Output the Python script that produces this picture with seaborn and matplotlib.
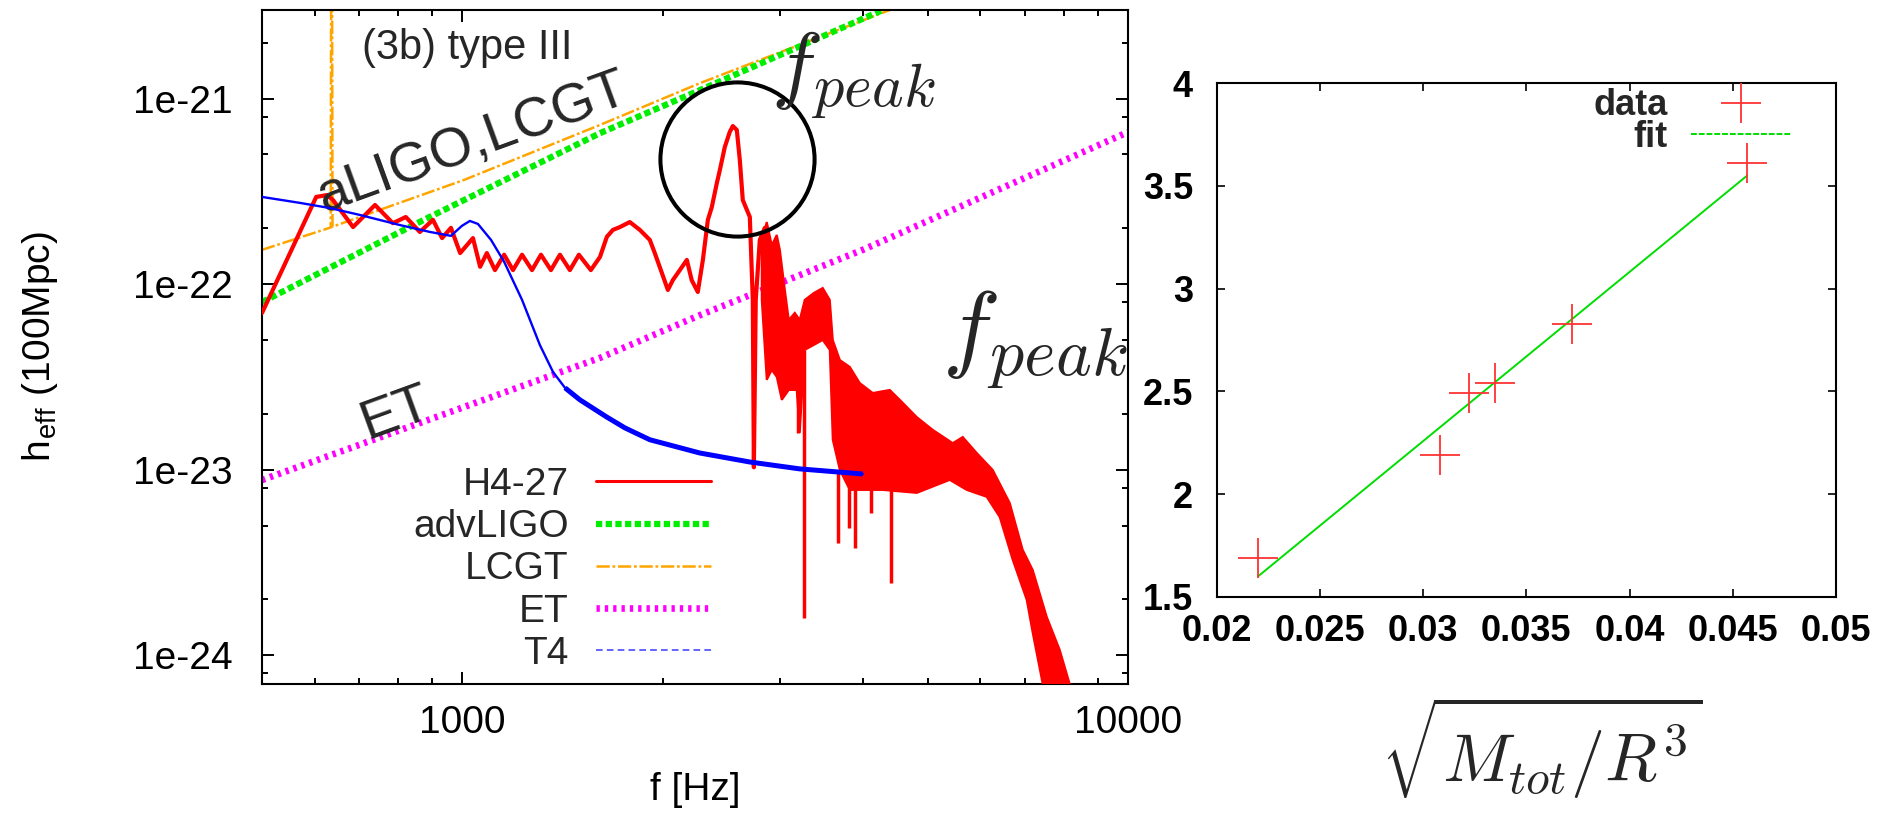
import matplotlib
matplotlib.use("Agg")
import matplotlib.pyplot as plt
from matplotlib.lines import Line2D
from matplotlib.ticker import FixedLocator, FixedFormatter, NullFormatter
import seaborn as sns

# ---------------- left panel: effective amplitude spectra ----------------
# H4-27 spectrum (low-frequency part, Hz / strain)
h427_f = [500, 603, 626, 639, 685, 739, 786, 822, 863, 903, 932, 961, 992, 1037,
          1063, 1088, 1119, 1155, 1191, 1229, 1272, 1312, 1358, 1401, 1450, 1496,
          1559, 1609, 1648, 1683, 1724, 1784, 1847, 1912, 1945, 1993, 2035, 2070,
          2121, 2173, 2210, 2257, 2297, 2337, 2369, 2411, 2436, 2478, 2521, 2548,
          2583, 2610, 2637, 2702, 2730, 2740, 2758, 2797, 2846]
h427_h = [7.0e-23, 2.95e-22, 3.02e-22, 2.84e-22, 2.03e-22, 2.67e-22, 2.13e-22,
          2.30e-22, 1.91e-22, 2.22e-22, 1.77e-22, 2.01e-22, 1.47e-22, 1.77e-22,
          1.24e-22, 1.47e-22, 1.19e-22, 1.44e-22, 1.19e-22, 1.44e-22, 1.19e-22,
          1.44e-22, 1.19e-22, 1.44e-22, 1.19e-22, 1.44e-22, 1.19e-22, 1.40e-22,
          1.80e-22, 1.96e-22, 2.03e-22, 2.16e-22, 1.96e-22, 1.73e-22, 1.47e-22,
          1.15e-22, 9.30e-23, 1.05e-22, 1.19e-22, 1.35e-22, 1.05e-22, 9.07e-23,
          1.35e-22, 2.22e-22, 2.60e-22, 3.51e-22, 4.12e-22, 5.48e-22, 6.61e-22,
          7.11e-22, 6.77e-22, 4.67e-22, 2.84e-22, 2.30e-22, 8.22e-23, 1.03e-23,
          8.22e-23, 1.73e-22, 2.01e-22]

# H4-27 noisy high-frequency part: upper and lower envelope
band_top_f = [2816, 2865, 2915, 2966, 2998, 3050, 3092, 3157, 3211, 3267, 3371,
              3477, 3563, 3600, 3689, 3818, 3952, 4134, 4384, 4539, 4747, 4814,
              5087, 5452, 5643, 5923, 6260, 6639, 6944, 7189, 7546, 7892, 8170,
              8300]
band_top_h = [1.73e-22, 2.16e-22, 1.62e-22, 1.84e-22, 1.53e-22, 9.30e-23, 6.41e-23,
              7.0e-23, 6.41e-23, 8.22e-23, 8.96e-23, 9.53e-23, 8.22e-23, 5.0e-23,
              3.90e-23, 3.58e-23, 2.93e-23, 2.59e-23, 2.69e-23, 2.38e-23, 2.02e-23,
              1.92e-23, 1.64e-23, 1.39e-23, 1.50e-23, 1.23e-23, 9.97e-24, 6.62e-24,
              3.70e-24, 2.88e-24, 1.61e-24, 1.07e-24, 7.0e-25, 3e-25]
band_bot_f = [2816, 2865, 2915, 2966, 3018, 3092, 3178, 3211, 3267, 3371, 3477,
              3563, 3600, 3689, 3818, 3952, 4279, 4814, 5395, 5722, 6131, 6413,
              6708, 7041, 7189, 7442, 7624]
band_bot_h = [8.22e-23, 3.05e-23, 3.45e-23, 3.16e-23, 2.38e-23, 2.69e-23, 2.69e-23,
              1.58e-23, 4.42e-23, 4.70e-23, 5.0e-23, 4.42e-23, 1.45e-23, 9.97e-24,
              7.78e-24, 7.78e-24, 7.78e-24, 7.50e-24, 8.81e-24, 7.78e-24, 7.14e-24,
              5.56e-24, 3.27e-24, 1.99e-24, 1.32e-24, 7.0e-25, 3e-25]

# narrow dips of the H4-27 spectrum
dip_f = [3190, 3256, 3669, 3804, 3884, 4105, 4400]
dip_top = [4.0e-23, 4.4e-23, 1.0e-23, 8.0e-24, 8.0e-24, 8.0e-24, 8.0e-24]
dip_bot = [1.58e-23, 1.59e-24, 4.03e-24, 4.85e-24, 3.79e-24, 5.85e-24, 2.45e-24]

# T4 spectrum
t4_f = [500, 570, 632, 701, 806, 894, 961, 998, 1026, 1055, 1104, 1155, 1229,
        1307, 1368, 1426, 1501, 1648, 1754, 1912, 2273, 2702, 3211, 3993]
t4_h = [2.95e-22, 2.74e-22, 2.57e-22, 2.36e-22, 2.08e-22, 1.91e-22, 1.82e-22,
        2.06e-22, 2.19e-22, 2.11e-22, 1.73e-22, 1.32e-22, 8.22e-23, 4.70e-23,
        3.36e-23, 2.76e-23, 2.38e-23, 1.92e-23, 1.68e-23, 1.45e-23, 1.23e-23,
        1.10e-23, 1.01e-23, 9.48e-24]

# detector sensitivities
advligo_f = [500, 875, 1608, 2273, 4279]
advligo_h = [8.0e-23, 2.22e-22, 6.5e-22, 1.11e-21, 3.0e-21]
lcgt_f = [500, 634, 636, 638, 1005, 1608, 2273, 4385]
lcgt_h = [1.53e-22, 2.02e-22, 1.0e-19, 2.04e-22, 3.64e-22, 7.2e-22, 1.21e-21, 3.0e-21]
et_f = [500, 1608, 2273, 3993, 10000]
et_h = [8.8e-24, 4.0e-23, 6.8e-23, 1.53e-22, 6.6e-22]

# location of the spectral peak
peak_f = 2581
peak_h = 4.75e-22

x_major = [1000, 10000]
x_major_labels = ["1000", "10000"]
x_minor = [600, 700, 800, 900, 2000, 3000, 4000, 5000, 6000, 7000, 8000, 9000]
y_major = [1e-24, 1e-23, 1e-22, 1e-21]
y_major_labels = ["1e-24", "1e-23", "1e-22", "1e-21"]
y_minor = [8e-25, 2e-24, 5e-24, 8e-24, 2e-23, 5e-23, 8e-23, 2e-22, 5e-22, 8e-22, 2e-21]

# ---------------- right panel: peak frequency vs compactness ----------------
compactness = [0.0220, 0.0308, 0.0322, 0.0335, 0.0372, 0.0457]
fpeak_khz = [1.69, 2.19, 2.49, 2.54, 2.83, 3.61]
fit_x = [0.0220, 0.0457]
fit_y = [1.60, 3.55]
r_xticks = [0.02, 0.025, 0.03, 0.035, 0.04, 0.045, 0.05]
r_xlabels = ["0.02", "0.025", "0.03", "0.035", "0.04", "0.045", "0.05"]
r_yticks = [1.5, 2, 2.5, 3, 3.5, 4]
r_ylabels = ["1.5", "2", "2.5", "3", "3.5", "4"]

# ---------------- styling ----------------
sns.set_theme(style="ticks")
plt.rcParams["font.family"] = ["Liberation Sans", "DejaVu Sans"]
plt.rcParams["mathtext.fontset"] = "cm"

RED = "#ff0000"
GREEN = "#00ee00"
ORANGE = "#ffa500"
MAGENTA = "#ff00ff"
BLUE = "#0000ff"
LIGHTBLUE = "#4a4aff"

fig = plt.figure(figsize=(18.84, 8.14), dpi=100)
ax = fig.add_axes([0.1391, 0.1597, 0.4597, 0.8280])
ax2 = fig.add_axes([0.6458, 0.2666, 0.3287, 0.6314])

ax.set_xscale("log")
ax.set_yscale("log")

lcgt_style = dict(color=ORANGE, lw=1.8, dashes=(5.3, 1.1, 1.1, 1.1))
aligo_style = dict(color=GREEN, lw=4.5, dashes=(1.0, 0.55))
et_style = dict(color=MAGENTA, lw=4.8, dashes=(0.5, 0.75))

ax.plot(lcgt_f, lcgt_h, zorder=2, **lcgt_style)
ax.plot(advligo_f, advligo_h, zorder=2, **aligo_style)
ax.plot(et_f, et_h, zorder=2, **et_style)

# H4-27: noisy band, main curve and narrow dips
ax.fill(band_top_f + band_bot_f[::-1], band_top_h + band_bot_h[::-1],
        color=RED, lw=1.5, zorder=3)
sns.lineplot(x=h427_f, y=h427_h, ax=ax, color=RED, lw=3, estimator=None,
             sort=False, zorder=3)
ax.vlines(dip_f, dip_bot, dip_top, color=RED, lw=2.5, zorder=3)

# T4: thin at low frequency, broadened by noise above ~1.4 kHz
sns.lineplot(x=t4_f, y=t4_h, ax=ax, color=BLUE, lw=1.7, estimator=None,
             sort=False, zorder=4)
tail = [i for i, f in enumerate(t4_f) if f >= 1400]
ax.plot([t4_f[i] for i in tail], [t4_h[i] for i in tail], color=BLUE, lw=3.6,
        solid_capstyle="butt", zorder=4)

# circle around the peak
ax.plot([peak_f], [peak_h], marker="o", ms=111, mfc="none", mec="black",
        mew=2.9, ls="none", zorder=6)

ax.set_xlim(500, 10000)
ax.set_ylim(7e-25, 3e-21)
ax.xaxis.set_major_locator(FixedLocator(x_major))
ax.xaxis.set_major_formatter(FixedFormatter(x_major_labels))
ax.xaxis.set_minor_locator(FixedLocator(x_minor))
ax.xaxis.set_minor_formatter(NullFormatter())
ax.yaxis.set_major_locator(FixedLocator(y_major))
ax.yaxis.set_major_formatter(FixedFormatter(y_major_labels))
ax.yaxis.set_minor_locator(FixedLocator(y_minor))
ax.yaxis.set_minor_formatter(NullFormatter())
ax.tick_params(which="both", direction="in", top=True, right=True, width=1.4,
               color="black", labelcolor="black")
ax.tick_params(which="major", length=8.6, labelsize=28)
ax.tick_params(which="minor", length=4.3)
ax.tick_params(axis="x", which="major", pad=15)
ax.tick_params(axis="y", which="major", pad=21)
for s in ax.spines.values():
    s.set_linewidth(1.5)
    s.set_color("black")

ax.set_xlabel("f [Hz]", fontsize=28, color="black")
ax.xaxis.set_label_coords(0.5, -0.1306)
ax.set_ylabel(r"h$_\mathregular{eff}$ (100Mpc)", fontsize=28, color="black")
ax.yaxis.set_label_coords(-0.233, 0.5)

ax.text(0.1155, 0.944, "(3b) type III", transform=ax.transAxes, fontsize=30,
        ha="left", va="center")
ax.text(0.2436, 0.8027, "aLIGO,LCGT", transform=ax.transAxes, fontsize=40,
        rotation=20, rotation_mode="anchor", ha="center", va="center")
ax.text(0.1547, 0.4006, "ET", transform=ax.transAxes, fontsize=40,
        rotation=20, rotation_mode="anchor", ha="center", va="center")
ax.text(0.6824, 0.9036, r"$f_{peak}$", transform=ax.transAxes, fontsize=62,
        ha="center", va="center", zorder=7)
ax.text(0.8926, 0.5104, r"$f_{peak}$", transform=ax.transAxes, fontsize=70,
        ha="center", va="center", zorder=7)

left_handles = [
    Line2D([], [], color=RED, lw=2.2),
    Line2D([], [], **aligo_style),
    Line2D([], [], **lcgt_style),
    Line2D([], [], **et_style),
    Line2D([], [], color=LIGHTBLUE, lw=1.2, dashes=(4, 2.5)),
]
left_labels = ["H4-27", "advLIGO", "LCGT", "ET", "T4"]
ax.legend(left_handles, left_labels, loc="upper right", bbox_to_anchor=(0.518, 0.322),
          frameon=False, markerfirst=False, fontsize=28, handlelength=2.96,
          handletextpad=0.69, labelspacing=0.16, borderpad=0, borderaxespad=0)

# ---------------- right panel ----------------
FITGREEN = "#00dd00"
MARKRED = "#ff3333"
sns.lineplot(x=fit_x, y=fit_y, ax=ax2, color=FITGREEN, lw=1.4, estimator=None,
             sort=False, zorder=2)
sns.scatterplot(x=compactness, y=fpeak_khz, ax=ax2, marker="+", s=29 ** 2,
                color=MARKRED, linewidth=1.3, zorder=3)
ax2.set_xlim(0.02, 0.05)
ax2.set_ylim(1.5, 4)
ax2.set_xticks(r_xticks, r_xlabels, fontweight="bold")
ax2.set_yticks(r_yticks, r_ylabels, fontweight="bold")
ax2.tick_params(which="both", direction="in", top=True, right=True, width=1.2,
                length=5.8, labelsize=26, color="black", labelcolor="black")
ax2.tick_params(axis="x", pad=12)
ax2.tick_params(axis="y", pad=17)
ax2.set_xlabel("")
ax2.set_ylabel("")
for s in ax2.spines.values():
    s.set_linewidth(1.5)
    s.set_color("black")

right_handles = [
    Line2D([], [], color=MARKRED, marker="+", ls="none", ms=29, mew=1.3),
    Line2D([], [], color=FITGREEN, lw=1.4, dashes=(3, 1)),
]
ax2.legend(right_handles, ["data", "fit"], loc="upper right",
           bbox_to_anchor=(0.927, 0.99), frameon=False, markerfirst=False,
           prop={"weight": "bold", "size": 26}, handlelength=2.77,
           handletextpad=0.64, labelspacing=-0.1, borderpad=0, borderaxespad=0)

fig.text(0.8185, 0.0811, r"$\sqrt{M_{tot}/R^3}$", fontsize=49, ha="center",
         va="center")

fig.savefig("out.png", dpi=100)
